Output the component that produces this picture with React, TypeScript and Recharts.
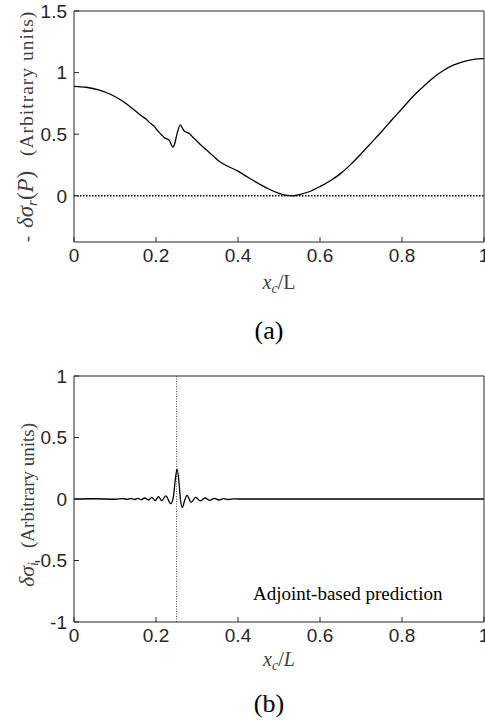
import { LineChart, Line, XAxis, YAxis, ReferenceLine, ReferenceDot, Label } from 'recharts'

const serif = '"Liberation Serif", "Times New Roman", serif'
const sans = '"Liberation Sans", Arial, sans-serif'
const axisColor = '#262626'

// panel (a): real part of the eigenvalue drift
const xcA = [
  0, 0.03, 0.06, 0.09, 0.12, 0.15, 0.165, 0.175, 0.185, 0.195, 0.205, 0.215, 0.222, 0.232, 0.2416, 0.247,
  0.251, 0.2596, 0.265, 0.27, 0.276, 0.282, 0.29, 0.2985, 0.31, 0.3228, 0.34, 0.355, 0.375, 0.4, 0.425, 0.45,
  0.475, 0.5, 0.52, 0.535, 0.55, 0.575, 0.6, 0.625, 0.65, 0.675, 0.7, 0.725, 0.75, 0.775, 0.8, 0.825, 0.85,
  0.875, 0.9, 0.925, 0.95, 0.975, 1
]
const sigmaR = [
  0.889, 0.881, 0.86, 0.822, 0.765, 0.688, 0.648, 0.625, 0.592, 0.567, 0.525, 0.49, 0.468, 0.452, 0.395, 0.44,
  0.5, 0.576, 0.545, 0.522, 0.515, 0.503, 0.475, 0.449, 0.41, 0.373, 0.322, 0.278, 0.24, 0.2, 0.148, 0.1,
  0.055, 0.02, 0.003, 0.0, 0.01, 0.035, 0.075, 0.122, 0.18, 0.255, 0.34, 0.43, 0.52, 0.615, 0.707, 0.8, 0.88,
  0.955, 1.015, 1.06, 1.09, 1.107, 1.113
]
const yTicksA = [0, 0.5, 1, 1.5]

// panel (b): imaginary part, adjoint-based prediction
const xcB = [
  0, 0.05, 0.1, 0.12, 0.13, 0.14, 0.148, 0.156, 0.164, 0.172, 0.182, 0.19, 0.198, 0.206, 0.214, 0.224, 0.236,
  0.2425, 0.2465, 0.2514, 0.256, 0.2595, 0.2644, 0.27, 0.2757, 0.2855, 0.297, 0.308, 0.3195, 0.331, 0.342,
  0.3536, 0.365, 0.376, 0.39, 0.4, 1
]
const sigmaI = [
  0, 0.002, -0.002, 0.003, -0.003, 0.004, -0.004, 0.005, -0.006, 0.008, -0.008, 0.013, -0.013, 0.019, -0.014,
  0.026, -0.038, 0.02, 0.14, 0.243, 0.14, 0.0, -0.068, -0.01, 0.03, -0.027, 0.014, -0.016, 0.008, -0.011,
  0.005, -0.008, 0.003, -0.004, 0.001, 0, 0
]
const yTicksB = [-1, -0.5, 0, 0.5, 1]

const xTicks = [0, 0.2, 0.4, 0.6, 0.8, 1]
const markerX = 0.25

const dataA = xcA.map((x, i) => ({ x, y: sigmaR[i] }))
const dataB = xcB.map((x, i) => ({ x, y: sigmaI[i] }))

const tickStyle = { fill: axisColor, fontSize: 19, fontFamily: sans }

// rotated labels: x is minus the pixel row where the text starts (reading upward)
function YLabelA() {
  return (
    <g transform="rotate(-90)" fill="#404040" fontFamily={serif}>
      <text x={-242} y={33} fontSize={18}>
        -
      </text>
      <text x={-228} y={33} fontSize={23}>
        <tspan fontStyle="italic">δσ</tspan>
        <tspan fontStyle="italic" fontSize={15} dy={4}>r</tspan>
        <tspan dy={-4}>(</tspan>
        <tspan fontStyle="italic">P</tspan>)
      </text>
      <text x={-156} y={33} fontSize={19.5} letterSpacing={1}>
        (Arbitrary units)
      </text>
    </g>
  )
}

function YLabelB() {
  return (
    <g transform="rotate(-90)" fill="#404040" fontFamily={serif}>
      <text x={-222} y={34} fontSize={22}>
        <tspan fontStyle="italic">δσ</tspan>
        <tspan fontStyle="italic" fontSize={14} dy={4}>i</tspan>
      </text>
      <text x={-183} y={34} fontSize={19}>
        (Arbitrary units)
      </text>
    </g>
  )
}

function XLabel({ viewBox, italicL, tag, dyLabel, dyTag }: any) {
  const { x, y, width } = viewBox
  const cx = x + width / 2
  return (
    <g fontFamily={serif}>
      <text x={cx} y={y + dyLabel} textAnchor="middle" fontSize={20} fill="#404040">
        <tspan fontStyle="italic">x</tspan>
        <tspan fontStyle="italic" fontSize={14} dy={4}>c</tspan>
        <tspan dy={-4}>/</tspan>
        <tspan fontStyle={italicL ? 'italic' : 'normal'}>L</tspan>
      </text>
      <text x={cx - 10} y={y + dyTag} textAnchor="middle" fontSize={26} fill="#000">
        {tag}
      </text>
    </g>
  )
}

function Frame({ yDomain, yTicks, xLabel, yLabel }: any) {
  return [
    <XAxis
      key="xb"
      dataKey="x"
      type="number"
      domain={[0, 1]}
      ticks={xTicks}
      interval={0}
      height={30}
      tickSize={-5}
      tickMargin={12}
      stroke={axisColor}
      tick={tickStyle}
      allowDataOverflow
    >
      <Label content={xLabel} />
    </XAxis>,
    <XAxis
      key="xt"
      xAxisId="top"
      orientation="top"
      type="number"
      domain={[0, 1]}
      ticks={xTicks}
      interval={0}
      height={1}
      tickSize={-5}
      tick={false}
      stroke={axisColor}
      allowDataOverflow
    />,
    <YAxis
      key="yl"
      type="number"
      domain={yDomain}
      ticks={yTicks}
      interval={0}
      width={74}
      tickSize={-5}
      tickMargin={12}
      stroke={axisColor}
      tick={tickStyle}
      allowDataOverflow
    >
      <Label content={yLabel} />
    </YAxis>,
    <YAxis
      key="yr"
      yAxisId="right"
      orientation="right"
      type="number"
      domain={yDomain}
      ticks={yTicks}
      interval={0}
      width={1}
      tickSize={-5}
      tick={false}
      stroke={axisColor}
      allowDataOverflow
    />
  ]
}

export default function App() {
  return (
    <div
      style={{
        position: 'absolute',
        left: 0,
        top: 0,
        width: 485,
        height: 720,
        overflow: 'hidden',
        background: '#fff'
      }}
    >
      <div style={{ position: 'absolute', left: 0, top: 0 }}>
        <LineChart width={500} height={350} data={dataA} margin={{ top: 10, right: 15, bottom: 78, left: 0 }}>
          {Frame({
            yDomain: [-0.375, 1.5],
            yTicks: yTicksA,
            yLabel: <YLabelA />,
            xLabel: (p: any) => <XLabel {...p} italicL={false} tag="(a)" dyLabel={47} dyTag={97} />
          })}
          <ReferenceLine y={0} stroke="#000" strokeWidth={1.5} strokeDasharray="1.5 1.5" />
          <Line
            type="monotone"
            dataKey="y"
            stroke="#000"
            strokeWidth={1.3}
            dot={false}
            isAnimationActive={false}
          />
        </LineChart>
      </div>
      <div style={{ position: 'absolute', left: 0, top: 365 }}>
        <LineChart width={500} height={355} data={dataB} margin={{ top: 10, right: 15, bottom: 68, left: 0 }}>
          {Frame({
            yDomain: [-1, 1],
            yTicks: yTicksB,
            yLabel: <YLabelB />,
            xLabel: (p: any) => <XLabel {...p} italicL tag="(b)" dyLabel={44} dyTag={90} />
          })}
          <ReferenceLine x={markerX} stroke="#555" strokeWidth={1} strokeDasharray="1 1.5" />
          <ReferenceDot
            x={0.4366}
            y={-0.82}
            r={0}
            stroke="none"
            fill="none"
            label={(p: any) => (
              <text x={p.viewBox.x} y={p.viewBox.y} fontFamily={serif} fontSize={19} fill="#000">
                Adjoint-based prediction
              </text>
            )}
          />
          <Line
            type="monotone"
            dataKey="y"
            stroke="#000"
            strokeWidth={1.3}
            dot={false}
            isAnimationActive={false}
          />
        </LineChart>
      </div>
    </div>
  )
}
